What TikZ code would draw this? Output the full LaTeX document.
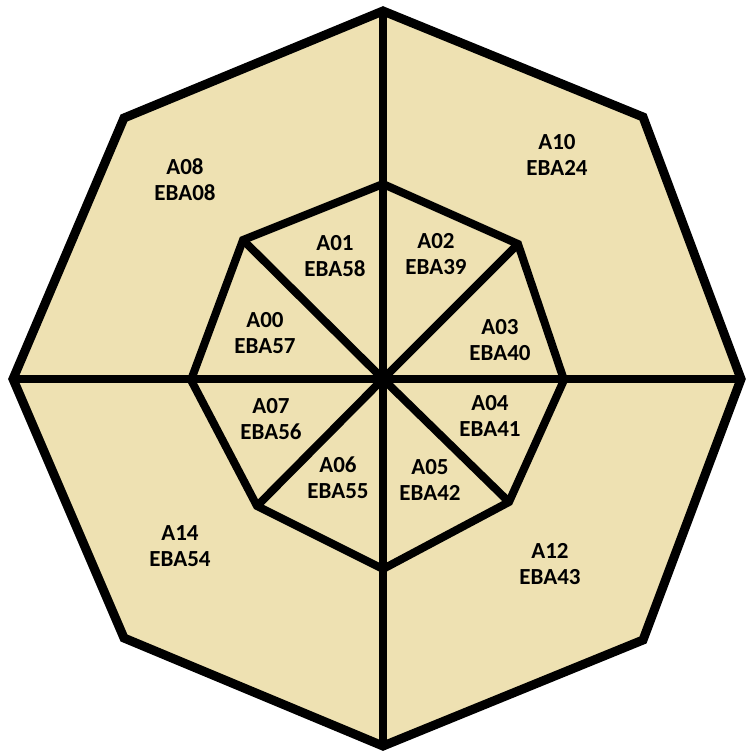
\documentclass[tikz,border=0pt]{standalone}
\usepackage{fontspec}
\setmainfont{Carlito}
\usetikzlibrary{positioning}
\definecolor{sand}{RGB}{238,225,178}

\begin{document}
\begin{tikzpicture}[
    x=1pt, y=-1pt,
    %% -- Area styles ------------------------------------------------------
    %%
    %% plate: the beige octagon body, drawn first so lines sit on top.
    plate/.style={fill=sand, draw=none},
    %% rim: the heavy outer border.
    rim/.style={draw=black, line width=9pt, line join=miter},
    %% ring: the inner octagon and its spokes.
    ring/.style={draw=black, line width=8pt, line join=miter},
    %% -- Label style ------------------------------------------------------
    %%
    %%   Two lines per sector: area code over zone code.
    %%     \node[zone] (A01) at (x,y) {A01\\EBA58};
    zone/.style={font=\fontsize{23}{26}\selectfont\bfseries, align=center, inner sep=0pt},
]

\useasboundingbox (0,0) rectangle (751,754);

%% -- Corner points ----------------------------------------------------------

\coordinate (c)  at (383,379);
% outer octagon
\coordinate (o1) at (383,11);
\coordinate (o2) at (643,117);
\coordinate (o3) at (741,379);
\coordinate (o4) at (643,640);
\coordinate (o5) at (383,746);
\coordinate (o6) at (124,638);
\coordinate (o7) at (13,379);
\coordinate (o8) at (124,118);
% inner octagon
\coordinate (i1) at (383,184);
\coordinate (i2) at (518,244);
\coordinate (i3) at (564,380);
\coordinate (i4) at (509,502);
\coordinate (i5) at (383,569);
\coordinate (i6) at (257,506);
\coordinate (i7) at (191,380);
\coordinate (i8) at (243,240);

%% -- Body and lines -------------------------------------------------------

\path[plate] (o1) -- (o2) -- (o3) -- (o4) -- (o5) -- (o6) -- (o7) -- (o8) -- cycle;

\draw[ring] (o1) -- (o5);
\draw[ring] (o7) -- (o3);
\draw[ring] (i1) -- (i2) -- (i3) -- (i4) -- (i5) -- (i6) -- (i7) -- (i8) -- cycle;
\draw[ring] (i8) -- (c) -- (i4);
\draw[ring] (i2) -- (c) -- (i6);

\draw[rim] (o1) -- (o2) -- (o3) -- (o4) -- (o5) -- (o6) -- (o7) -- (o8) -- cycle;

%% -- Sector labels --------------------------------------------------------

\node[zone] (A08) at (185,180) {A08\\EBA08};
\node[zone] (A10) at (557,155) {A10\\EBA24};
\node[zone] (A01) at (335,256) {A01\\EBA58};
\node[zone] (A02) at (436,254) {A02\\EBA39};
\node[zone] (A00) at (265,333) {A00\\EBA57};
\node[zone] (A03) at (500,340) {A03\\EBA40};
\node[zone] (A07) at (271,419) {A07\\EBA56};
\node[zone] (A04) at (490,416) {A04\\EBA41};
\node[zone] (A06) at (338,478) {A06\\EBA55};
\node[zone] (A05) at (430,480) {A05\\EBA42};
\node[zone] (A14) at (180,546) {A14\\EBA54};
\node[zone] (A12) at (550,564) {A12\\EBA43};

\end{tikzpicture}
\end{document}
